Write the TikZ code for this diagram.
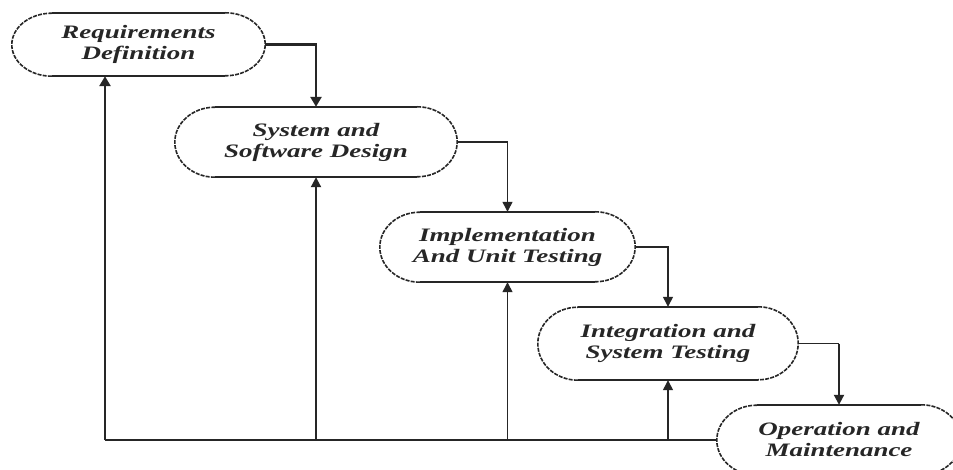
\documentclass[tikz,border=0pt]{standalone}
\usepackage{fontspec}
\newfontfamily\lblfont[FakeStretch=1.42]{Liberation Serif}
\usetikzlibrary{arrows.meta,calc}
\definecolor{ink}{HTML}{262626}
\tikzset{
  stage/.style={draw=none, inner sep=0pt, align=center, text=ink,
    font=\lblfont\bfseries\itshape\fontsize{19}{21}\selectfont},
  edgeflat/.style={draw=ink, line width=1.8pt},
  edgeside/.style={draw=ink, line width=1.6pt, dash pattern=on 4pt off 1.2pt},
  heavyarrow/.style={draw=ink, line width=2.8pt, -{Triangle[length=10pt,width=11pt]}},
  midarrow/.style={draw=ink, line width=2pt, -{Triangle[length=10pt,width=10pt]}},
  lightarrow/.style={draw=ink, line width=1.3pt, -{Triangle[length=10pt,width=10pt]}},
  lightline/.style={draw=ink, line width=1.3pt},
  heavyline/.style={draw=ink, line width=2.6pt},
}
% outline of a stage: #1 name, #2 half height
\newcommand\stageoutline[2]{%
  \draw[edgeflat] ($(#1.north west)+(40pt,0)$) -- ($(#1.north east)+(-40pt,0)$);
  \draw[edgeflat] ($(#1.south west)+(40pt,0)$) -- ($(#1.south east)+(-40pt,0)$);
  \draw[edgeside] ($(#1.north east)+(-40pt,0)$) arc[start angle=90, end angle=-90, x radius=40pt, y radius=#2];
  \draw[edgeside] ($(#1.south west)+(40pt,0)$) arc[start angle=270, end angle=90, x radius=40pt, y radius=#2];
}
\begin{document}
\begin{tikzpicture}[x=1pt,y=-1pt]
  \clip (0,0) rectangle (953,470);
  \fill[white] (0,0) rectangle (953,470);

  \node[stage, minimum width=253pt, minimum height=63pt] (n1) at (138.5,44.5) {Requirements\\Definition};
  \node[stage, minimum width=282pt, minimum height=70pt] (n2) at (316,142) {System and\\Software Design};
  \node[stage, minimum width=255pt, minimum height=70pt] (n3) at (507.5,247) {Implementation\\And Unit Testing};
  \node[stage, minimum width=260pt, minimum height=73pt] (n4) at (668,343.5) {Integration and\\System Testing};
  \node[stage, minimum width=244pt, minimum height=70pt] (n5) at (839,440) {Operation and\\Maintenance};

  \stageoutline{n1}{31.5pt}
  \stageoutline{n2}{35pt}
  \stageoutline{n3}{35pt}
  \stageoutline{n4}{36.5pt}
  \stageoutline{n5}{35pt}

  % forward flow
  \draw[heavyarrow] (n1.east) -| (n2.north);
  \draw[lightarrow] (n2.east) -| (n3.north);
  \draw[lightarrow] (n3.east) -| (n4.north);
  \coordinate (k45) at (n4.east -| n5.north);
  \draw[lightline] (n4.east) -- (k45);
  \draw[midarrow] (k45) -- (n5.north);

  % feedback
  \coordinate (fb) at (105,440);
  \draw[heavyline] (n5.west) -- (fb);
  \draw[heavyarrow] (fb) -- (fb |- n1.south);
  \draw[midarrow] (n2.south |- fb) -- (n2.south);
  \draw[lightarrow] (n3.south |- fb) -- (n3.south);
  \draw[lightarrow] (n4.south |- fb) -- (n4.south);
\end{tikzpicture}
\end{document}
